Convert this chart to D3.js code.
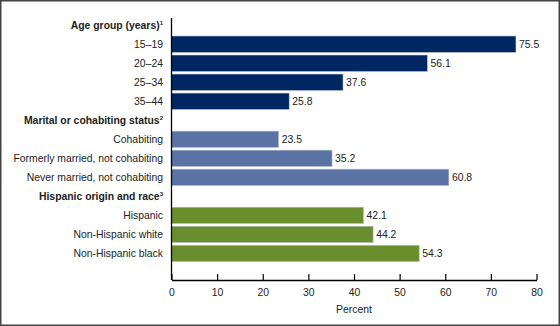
<!DOCTYPE html>
<html>
<head>
<meta charset="utf-8">
<script src="https://cdn.jsdelivr.net/npm/d3@7"></script>
<style>
  body { margin: 0; background: #fff; }
  svg { display: block; font-family: "Liberation Sans", Arial, sans-serif; }
</style>
</head>
<body>
<div class="chart"></div>
<script>
// Data
var rowLabels = ["Age group (years)", "15–19", "20–24", "25–34", "35–44",
  "Marital or cohabiting status", "Cohabiting", "Formerly married, not cohabiting", "Never married, not cohabiting",
  "Hispanic origin and race", "Hispanic", "Non-Hispanic white", "Non-Hispanic black"];
var headerNotes = { "Age group (years)": "1", "Marital or cohabiting status": "2", "Hispanic origin and race": "3" };
var ageGroups = ["15–19", "20–24", "25–34", "35–44"];
var ageValues = [75.5, 56.1, 37.6, 25.8];
var maritalGroups = ["Cohabiting", "Formerly married, not cohabiting", "Never married, not cohabiting"];
var maritalValues = [23.5, 35.2, 60.8];
var raceGroups = ["Hispanic", "Non-Hispanic white", "Non-Hispanic black"];
var raceValues = [42.1, 44.2, 54.3];
var xTicks = [0, 10, 20, 30, 40, 50, 60, 70, 80];

var svgWidth = 560;
var svgHeight = 326;
var fontSize = 10.4;

var bars = [];
ageGroups.forEach(function(d, i) { bars.push({ label: d, value: ageValues[i], color: "#002762" }); });
maritalGroups.forEach(function(d, i) { bars.push({ label: d, value: maritalValues[i], color: "#5b73a4" }); });
raceGroups.forEach(function(d, i) { bars.push({ label: d, value: raceValues[i], color: "#6a8e2e" }); });

var svg = d3.select(".chart").append("svg")
  .attr("width", svgWidth)
  .attr("height", svgHeight);

// frame
svg.append("rect")
  .attr("x", 0.75).attr("y", 0.75)
  .attr("width", svgWidth - 1.5).attr("height", svgHeight - 1.5)
  .attr("fill", "none").attr("stroke", "#444").attr("stroke-width", 1.5);

var x = d3.scaleLinear().domain([0, 80]).range([171.5, 536.5]);
var y = d3.scaleBand().domain(rowLabels).range([14.5, 264.2]).padding(0.13);

// bars
svg.selectAll(".bar")
  .data(bars)
  .enter()
  .append("rect")
  .attr("class", "bar")
  .attr("x", x(0))
  .attr("y", function(d) { return y(d.label); })
  .attr("width", function(d) { return x(d.value) - x(0); })
  .attr("height", y.bandwidth())
  .attr("fill", function(d) { return d.color; })
  .attr("stroke", "#c8cfd8")
  .attr("stroke-width", 0.6);

// value labels
svg.selectAll(".val")
  .data(bars)
  .enter()
  .append("text")
  .attr("x", function(d) { return x(d.value) + 3; })
  .attr("y", function(d) { return y(d.label) + y.bandwidth() / 2; })
  .attr("dy", "0.35em")
  .attr("font-size", fontSize)
  .attr("fill", "#222")
  .text(function(d) { return d.value.toFixed(1); });

// row labels
var labels = svg.selectAll(".rowlabel")
  .data(rowLabels)
  .enter()
  .append("text")
  .attr("x", 163)
  .attr("y", function(d) { return y(d) + y.bandwidth() / 2; })
  .attr("dy", "0.35em")
  .attr("text-anchor", "end")
  .attr("font-size", fontSize)
  .attr("fill", "#222")
  .attr("font-weight", function(d) { return headerNotes[d] ? "bold" : "normal"; });
labels.append("tspan").text(function(d) { return d; });
labels.filter(function(d) { return headerNotes[d]; })
  .append("tspan")
  .attr("font-size", 6)
  .attr("dy", "-0.6em")
  .text(function(d) { return headerNotes[d]; });

// x axis
var bottomAxis = d3.axisBottom(x).tickValues(xTicks).tickSizeInner(-6).tickSizeOuter(0).tickPadding(9);
var xg = svg.append("g")
  .attr("transform", "translate(0,280)")
  .call(bottomAxis);
xg.select(".domain").attr("stroke", "#000").attr("stroke-width", 1.3);
xg.selectAll(".tick line").attr("stroke", "#000").attr("stroke-width", 1.2);
xg.selectAll("text").attr("font-size", fontSize).attr("fill", "#222")
  .attr("font-family", "Liberation Sans, Arial, sans-serif");

// y axis line
svg.append("line")
  .attr("x1", x(0)).attr("x2", x(0))
  .attr("y1", 18).attr("y2", 280)
  .attr("stroke", "#000").attr("stroke-width", 1.3);

// x axis title
svg.append("text")
  .attr("x", (x(0) + x(80)) / 2)
  .attr("y", 313)
  .attr("text-anchor", "middle")
  .attr("font-size", fontSize)
  .attr("fill", "#222")
  .text("Percent");
</script>
</body>
</html>
